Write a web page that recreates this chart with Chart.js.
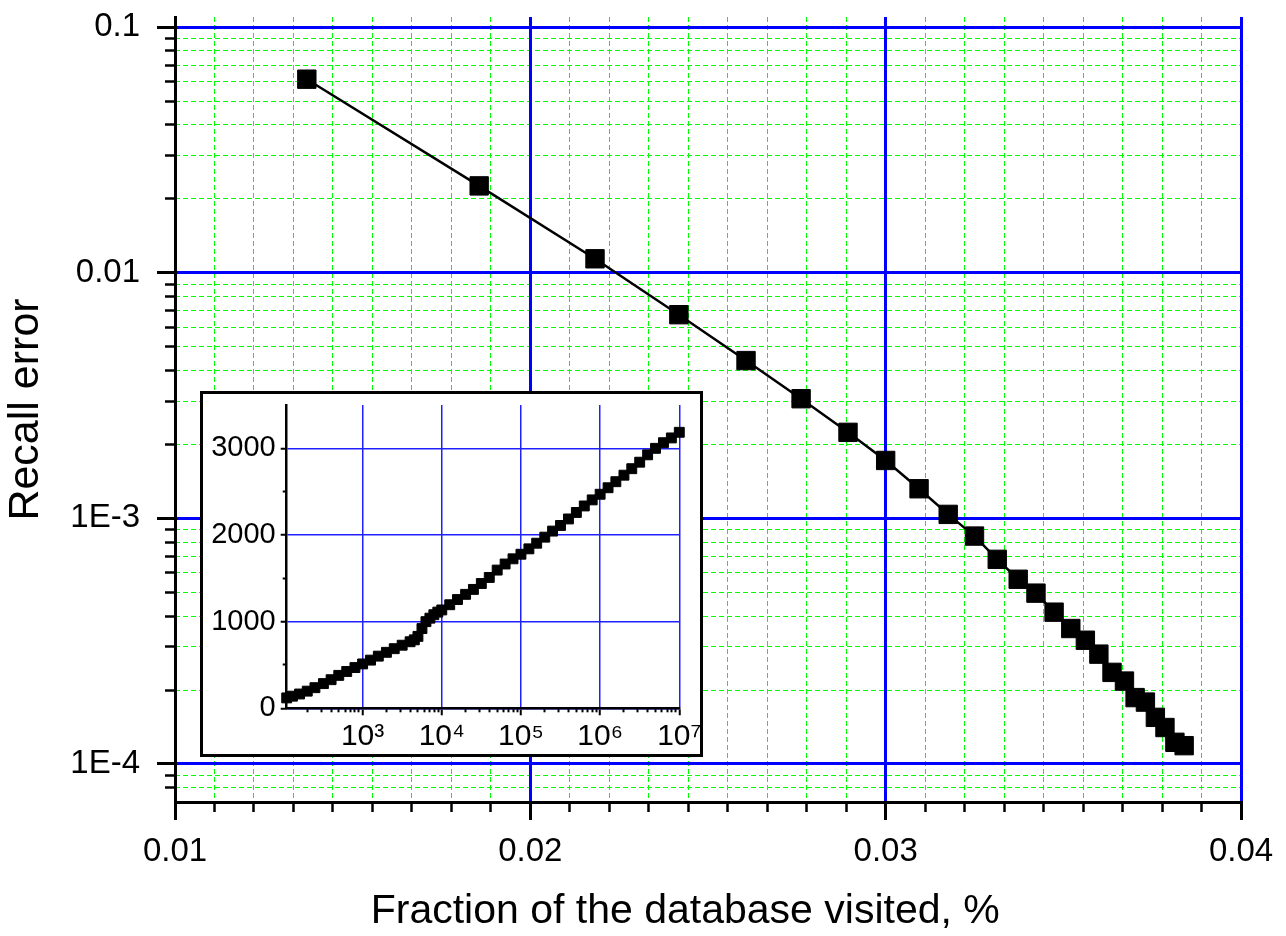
<!DOCTYPE html>
<html>
<head>
<meta charset="utf-8">
<script src="https://cdn.jsdelivr.net/npm/chart.js@4.4.1/dist/chart.umd.min.js"></script>
<style>
  body { margin: 0; background: #fff; }
  #wrap { position: relative; width: 1286px; height: 936px; }
  #main { position: absolute; left: 0; top: 0; }
  #insetBox { position: absolute; left: 200px; top: 391px; width: 503px; height: 366px;
              border: 3px solid #000; box-sizing: border-box; background: #fff; }
  #inset { display: block; }
</style>
</head>
<body>
<div id="wrap">
  <canvas id="main" width="1286" height="936"></canvas>
  <div id="insetBox"><canvas id="inset" width="497" height="360"></canvas></div>
</div>
<script>
// main plot: recall error vs fraction of database visited
const fractionVisited = [0.01371, 0.01856, 0.02182, 0.02418, 0.02607, 0.02762, 0.02894, 0.03000,
  0.03094, 0.03176, 0.03250, 0.03314, 0.03373, 0.03423, 0.03474, 0.03521, 0.03562, 0.03600,
  0.03637, 0.03672, 0.03702, 0.03731, 0.03759, 0.03786, 0.03814, 0.03840];
const recallError = [0.0614, 0.02258, 0.0114, 0.00675, 0.00439, 0.00307, 0.00224, 0.001721,
  0.00132, 0.001038, 0.000847, 0.000681, 0.000565, 0.000496, 0.000415, 0.000356, 0.000319, 0.00028,
  0.000236, 0.0002175, 0.0001863, 0.0001786, 0.0001548, 0.0001407, 0.0001225, 0.0001187];

const mainXTicks = [0.01, 0.02, 0.03, 0.04];
const mainXLabels = ['0.01', '0.02', '0.03', '0.04'];
const mainYTicks = [1e-4, 1e-3, 1e-2, 1e-1];
const mainYLabels = ['1E-4', '1E-3', '0.01', '0.1'];

// inset
const insetX = [110, 130, 160, 200, 250, 320, 400, 500, 630, 800, 1000, 1260, 1580, 2000, 2510,
  3160, 3980, 4500, 5000, 5620, 6310, 7080, 7940, 8910, 10000, 12600, 15800, 20000, 25100, 31600,
  39800, 50100, 63100, 79400, 100000, 126000, 158000, 200000, 251000, 316000, 398000, 501000,
  631000, 794000, 1000000, 1260000, 1580000, 2000000, 2510000, 3160000, 3980000, 5010000,
  6310000, 7940000, 10000000];
const insetY = [120, 140, 165, 198, 238, 285, 330, 380, 425, 470, 512, 556, 602, 646, 688,
  728, 768, 790, 830, 920, 1000, 1040, 1080, 1110, 1135, 1195, 1255, 1315, 1372, 1440,
  1510, 1595, 1665, 1725, 1778, 1840, 1905, 1975, 2045, 2110, 2185, 2260,
  2335, 2405, 2470, 2545, 2615, 2690, 2765, 2840, 2925, 3000,
  3065, 3120, 3185];

const insetXTicks = [1e3, 1e4, 1e5, 1e6, 1e7];
const insetXLabels = ['10³', '10⁴', '10⁵', '10⁶', '10⁷'];
const insetYTicks = [0, 1000, 2000, 3000];
const insetYLabels = ['0', '1000', '2000', '3000'];
const insetYMinor = [500, 1500, 2500];

const BLUE = '#0000ff';
const GREEN = '#00ff00';
const FONT = "'Liberation Sans', Arial, sans-serif";

function setTicks(values) {
  return function (axis) { axis.ticks = values.map(v => ({ value: v })); };
}
function setSize(w, h) {
  return function (axis) {
    if (w !== null) axis.width = w;
    if (h !== null) axis.height = h;
    axis.paddingTop = 0; axis.paddingBottom = 0;
    axis.paddingLeft = 0; axis.paddingRight = 0;
  };
}
function logMinor(lo, hi, fromExp, toExp) {
  const out = [];
  for (let e = fromExp; e <= toExp; e++) {
    for (let m = 2; m <= 9; m++) {
      const v = Number((m * Math.pow(10, e)).toPrecision(3));
      if (v > lo && v < hi) out.push(v);
    }
  }
  return out;
}

const mainXMinor = [];
for (let k = 1; k < 27; k++) {
  if (k % 9 !== 0) mainXMinor.push(0.01 + k * 0.01 / 9);
}
const mainYMinor = logMinor(7.5e-5, 0.11, -5, -2);

new Chart(document.getElementById('main'), {
  type: 'line',
  data: {
    datasets: [{
      data: fractionVisited.map((x, i) => ({ x: x, y: recallError[i] })),
      borderColor: '#000',
      borderWidth: 2.5,
      backgroundColor: '#000',
      pointStyle: 'rect',
      pointRadius: 13,
      pointBorderWidth: 1,
      clip: false,
      xAxisID: 'x',
      yAxisID: 'y'
    }]
  },
  options: {
    responsive: false,
    animation: false,
    devicePixelRatio: 1,
    layout: { padding: { left: 0, top: 17, right: 45, bottom: 0 } },
    plugins: { legend: { display: false }, tooltip: { enabled: false } },
    scales: {
      x2: {
        type: 'linear', position: 'bottom', weight: 0, min: 0.01, max: 0.04,
        afterBuildTicks: setTicks(mainXMinor),
        afterFit: setSize(null, 0),
        ticks: { display: false },
        grid: { color: GREEN, lineWidth: 1, tickColor: '#000', tickLength: 10, tickWidth: 2.5 },
        border: { display: false, dash: [5, 3] }
      },
      y2: {
        type: 'logarithmic', position: 'left', weight: 0, min: 7e-5, max: 0.11,
        afterBuildTicks: setTicks(mainYMinor),
        afterFit: setSize(0, null),
        ticks: { display: false },
        grid: { color: GREEN, lineWidth: 1, tickColor: '#000', tickLength: 10, tickWidth: 2.5 },
        border: { display: false, dash: [5, 3] }
      },
      x: {
        type: 'linear', position: 'bottom', weight: 1, min: 0.01, max: 0.04,
        afterBuildTicks: setTicks(mainXTicks),
        afterFit: setSize(null, 134),
        ticks: {
          callback: (v, i) => mainXLabels[i],
          font: { family: FONT, size: 33 }, color: '#000', padding: 12, maxRotation: 0, autoSkip: false
        },
        grid: { color: BLUE, lineWidth: 3, tickColor: '#000', tickLength: 18, tickWidth: 3 },
        border: { color: '#000', width: 3 },
        title: {
          display: true, text: 'Fraction of the database visited, %    ', color: '#000',
          font: { family: FONT, size: 41, lineHeight: 1.2 }, padding: 0
        }
      },
      y: {
        type: 'logarithmic', position: 'left', weight: 1, min: 7e-5, max: 0.11,
        afterBuildTicks: setTicks(mainYTicks),
        afterFit: setSize(175, null),
        ticks: {
          callback: (v, i) => mainYLabels[i],
          font: { family: FONT, size: 33 }, color: '#000', padding: 17, autoSkip: false
        },
        grid: { color: BLUE, lineWidth: 3, tickColor: '#000', tickLength: 18, tickWidth: 3 },
        border: { color: '#000', width: 3 },
        title: {
          display: true, text: 'Recall error', color: '#000',
          font: { family: FONT, size: 43, lineHeight: 1.2 }, padding: 0
        }
      }
    }
  }
});

new Chart(document.getElementById('inset'), {
  type: 'line',
  data: {
    datasets: [{
      data: insetX.map((x, i) => ({ x: x, y: insetY[i] })),
      borderColor: '#000',
      borderWidth: 4,
      backgroundColor: '#000',
      pointStyle: 'rect',
      pointRadius: 7,
      pointBorderWidth: 1,
      clip: false,
      xAxisID: 'x',
      yAxisID: 'y'
    }]
  },
  options: {
    responsive: false,
    animation: false,
    devicePixelRatio: 1,
    layout: { padding: { left: 0, top: 11, right: 20.7, bottom: 0 } },
    plugins: { legend: { display: false }, tooltip: { enabled: false } },
    scales: {
      x2: {
        type: 'logarithmic', position: 'bottom', weight: 0, min: 110, max: 1e7,
        afterBuildTicks: setTicks(logMinor(110, 1e7, 2, 6)),
        afterFit: setSize(null, 0),
        ticks: { display: false },
        grid: { drawOnChartArea: false, tickColor: '#000', tickLength: 4, tickWidth: 2 },
        border: { display: false }
      },
      y2: {
        type: 'linear', position: 'left', weight: 0, min: 0, max: 3500,
        afterBuildTicks: setTicks(insetYMinor),
        afterFit: setSize(0, null),
        ticks: { display: false },
        grid: { drawOnChartArea: false, tickColor: '#000', tickLength: 4, tickWidth: 2 },
        border: { display: false }
      },
      x: {
        type: 'logarithmic', position: 'bottom', weight: 1, min: 110, max: 1e7,
        afterBuildTicks: setTicks(insetXTicks),
        afterFit: setSize(null, 45.7),
        ticks: {
          callback: (v, i) => insetXLabels[i],
          font: { family: FONT, size: 30 }, color: '#000', padding: 3, maxRotation: 0, autoSkip: false
        },
        grid: { color: '#2020ff', lineWidth: 1.5, tickColor: '#000', tickLength: 7, tickWidth: 2 },
        border: { color: '#000', width: 2.5 }
      },
      y: {
        type: 'linear', position: 'left', weight: 1, min: 0, max: 3500,
        afterBuildTicks: setTicks(insetYTicks),
        afterFit: setSize(83.7, null),
        ticks: {
          callback: (v, i) => insetYLabels[i],
          font: { family: FONT, size: 29 }, color: '#000', padding: 5, autoSkip: false
        },
        grid: { color: '#2020ff', lineWidth: 1.5, tickColor: '#000', tickLength: 6, tickWidth: 2 },
        border: { color: '#000', width: 2.5 }
      }
    }
  }
});
</script>
</body>
</html>
